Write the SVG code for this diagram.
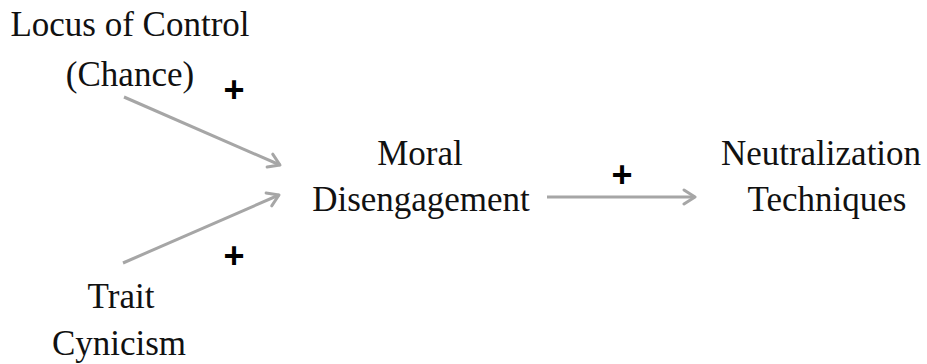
<svg xmlns="http://www.w3.org/2000/svg" width="927" height="364" viewBox="0 0 927 364">
<style>
.lbl{font-family:"Liberation Serif","Times New Roman",serif;font-size:35px;fill:#111;text-anchor:middle}
.sign{font-family:"Liberation Sans",Arial,sans-serif;font-size:36px;font-weight:bold;fill:#000;text-anchor:middle}
.edge{stroke:#a6a6a6;stroke-width:3;fill:none;marker-end:url(#arr)}
</style>
<defs>
<marker id="arr" markerUnits="userSpaceOnUse" markerWidth="20" markerHeight="20" refX="13" refY="8" orient="auto" viewBox="0 0 20 16">
<path d="M2,1 L13,8 L2,15" fill="none" stroke="#a6a6a6" stroke-width="3" stroke-linecap="round" stroke-linejoin="round"/>
</marker>
</defs>
<rect width="927" height="364" fill="#fff"/>
<g id="connectors">
<line class="edge" x1="124" y1="97" x2="280" y2="165"/>
<line class="edge" x1="123" y1="263" x2="279" y2="195"/>
<line class="edge" x1="547" y1="197" x2="695" y2="197"/>
</g>
<g id="signs">
<text class="sign" x="234" y="102">+</text>
<text class="sign" x="234" y="268">+</text>
<text class="sign" x="622" y="187">+</text>
</g>
<g id="locus">
<text class="lbl" x="130" y="36">Locus of Control</text>
<text class="lbl" x="130" y="86">(Chance)</text>
</g>
<g id="cynicism">
<text class="lbl" x="121" y="308">Trait</text>
<text class="lbl" x="119" y="355">Cynicism</text>
</g>
<g id="moral">
<text class="lbl" x="420" y="165">Moral</text>
<text class="lbl" x="421" y="211">Disengagement</text>
</g>
<g id="neutralization">
<text class="lbl" x="821" y="165">Neutralization</text>
<text class="lbl" x="827" y="211">Techniques</text>
</g>
</svg>
